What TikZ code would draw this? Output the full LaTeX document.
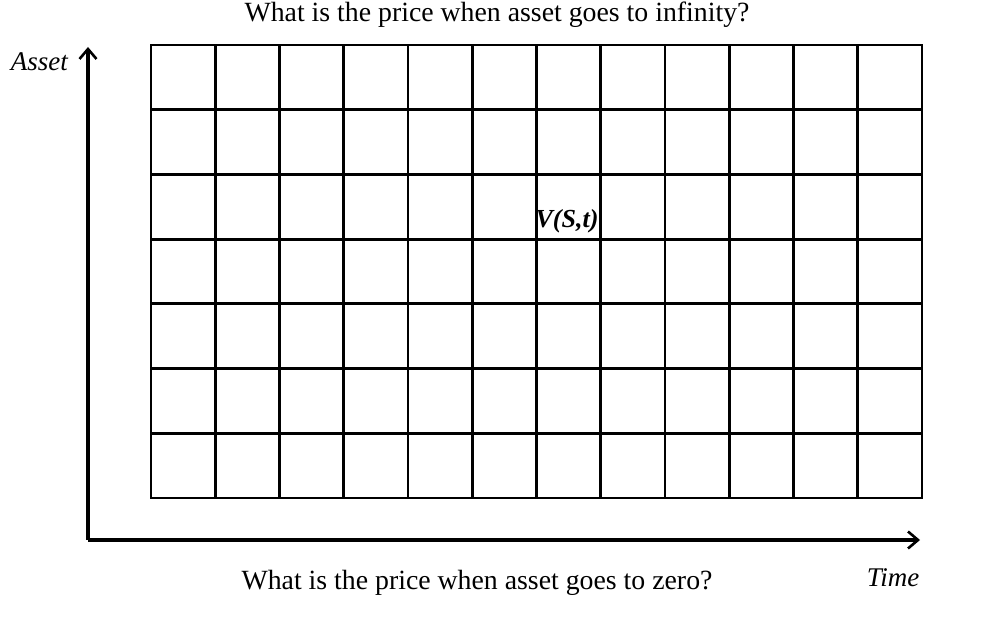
\documentclass[tikz,border=0pt]{standalone}
\usepackage{fontspec}
\setmainfont{Liberation Serif}
\usetikzlibrary{arrows.meta,positioning}

\begin{document}
\begin{tikzpicture}[x=1pt,y=1pt,>={Straight Barb[length=10pt,width=17pt,line width=2.6pt]},every node/.style={inner sep=0pt,align=center},
    question/.style={font=\fontsize{27.8}{32}\selectfont},
    axislabel/.style={font=\fontsize{27}{32}\selectfont\itshape}]
    \useasboundingbox (0,0) rectangle (992,618);
    % mesh of nodes in (t,S)
    \foreach \i in {0,...,12}
      \draw[line width=2.8pt,line cap=rect] (151+\i*64.25,120)--(151+\i*64.25,573);
    \foreach \j in {0,...,7}
      \draw[line width=2.8pt,line cap=rect] (151,120+\j*64.714)--(922,120+\j*64.714);
    \node[font=\fontsize{26}{30}\selectfont\bfseries\itshape] (value) at (567,397) {V(S,t)};
    % axes
    \coordinate (origin) at (88,78);
    \coordinate (assettip) at (88,571);
    \coordinate (timetip) at (920,78);
    \draw[->,line width=3.4pt] (origin)--(assettip);
    \draw[->,line width=3.4pt] (origin)--(timetip);
    \node[axislabel,left=20pt of assettip,yshift=-15pt] (asset) {Asset};
    \node[axislabel] (time) at (893,40) {Time};
    \node[question] (top) at (497,603) {What is the price when asset goes to infinity?};
    \node[question] (bottom) at (477,35) {What is the price when asset goes to zero?};
  \end{tikzpicture}
\end{document}
